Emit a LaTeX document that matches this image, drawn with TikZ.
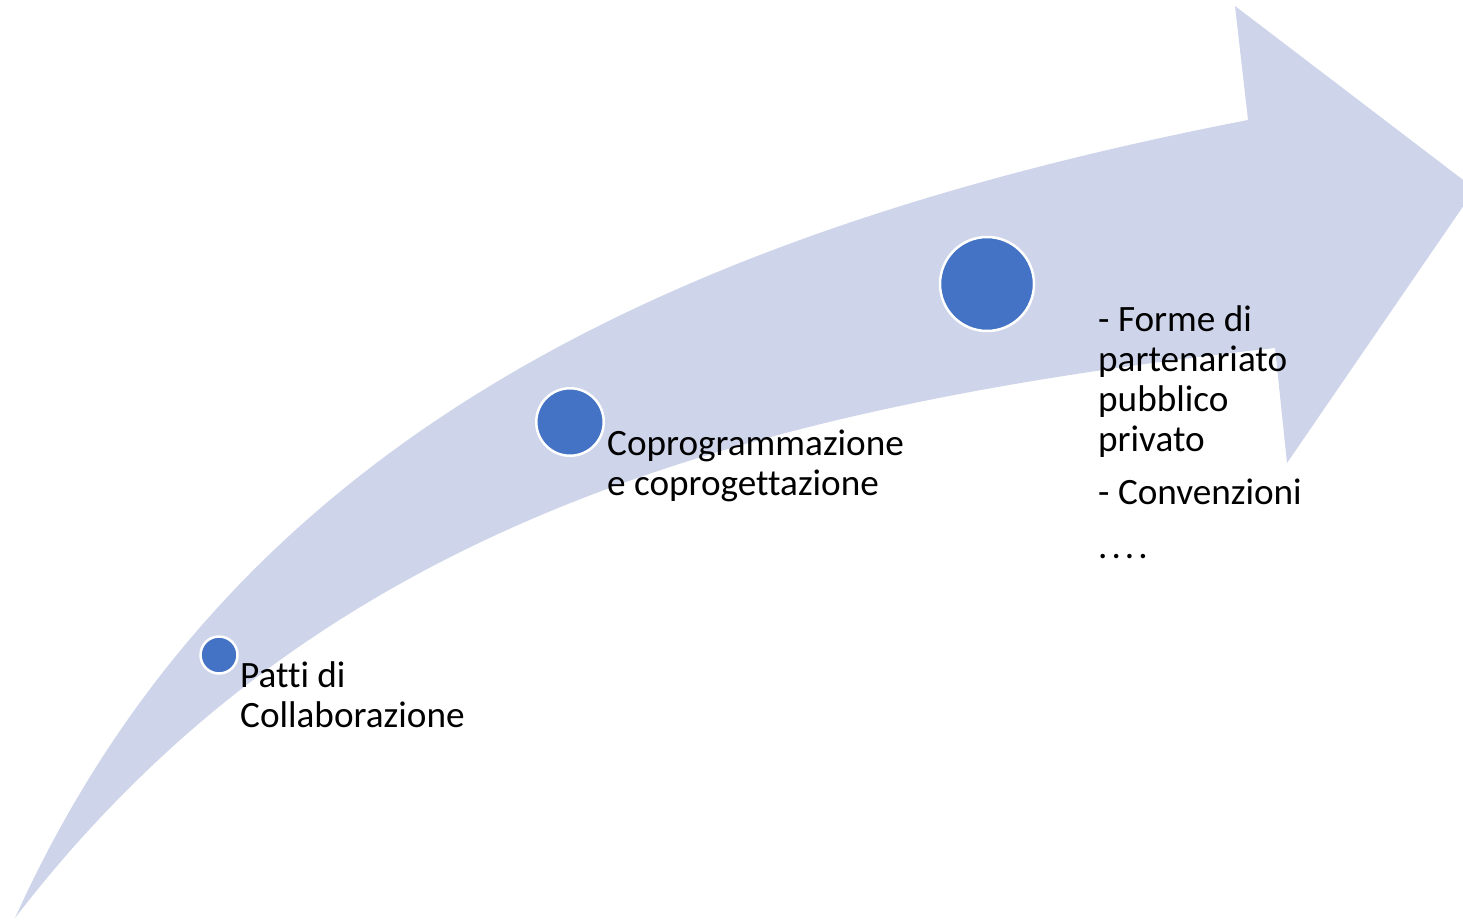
\documentclass[tikz,border=0pt]{standalone}
\usepackage{fontspec}
\setmainfont{Carlito}[Ligatures=NoCommon]
\definecolor{band}{RGB}{206,212,234}
\definecolor{dotblue}{RGB}{68,114,196}
\begin{document}
\begin{tikzpicture}[x=1pt,y=-1pt,
  dot/.style={circle,fill=dotblue,draw=white,line width=2.5pt,inner sep=0pt},
  lbl/.style={anchor=base west,inner sep=0pt,align=left,font=\fontsize{37.2}{40}\selectfont}]
\useasboundingbox (0,0) rectangle (1463,920);
\clip (0,0) rectangle (1463,920);
\fill[band] (15,918) .. controls (220,465) and (630,240) .. (1248,120)
  -- (1235,6) -- (1475,189) -- (1287,463) -- (1275,348)
  .. controls (735,408) and (315,528) .. (15,918) -- cycle;
\node[dot,minimum size=37pt] (c1) at (219,655) {};
\node[dot,minimum size=67.5pt] (c2) at (570,422) {};
\node[dot,minimum size=94pt] (c3) at (987,284) {};
\node[lbl] (t1) at (240,727) {Patti di\\Collaborazione};
\node[lbl] (t2) at (607,495) {Coprogrammazione\\e coprogettazione};
\node[lbl] (t3) at (1098,558) {- Forme di\\partenariato\\pubblico\\privato\\[13pt]- Convenzioni\\[14pt].\kern4pt.\kern4pt.\kern4pt.};
\end{tikzpicture}
\end{document}
